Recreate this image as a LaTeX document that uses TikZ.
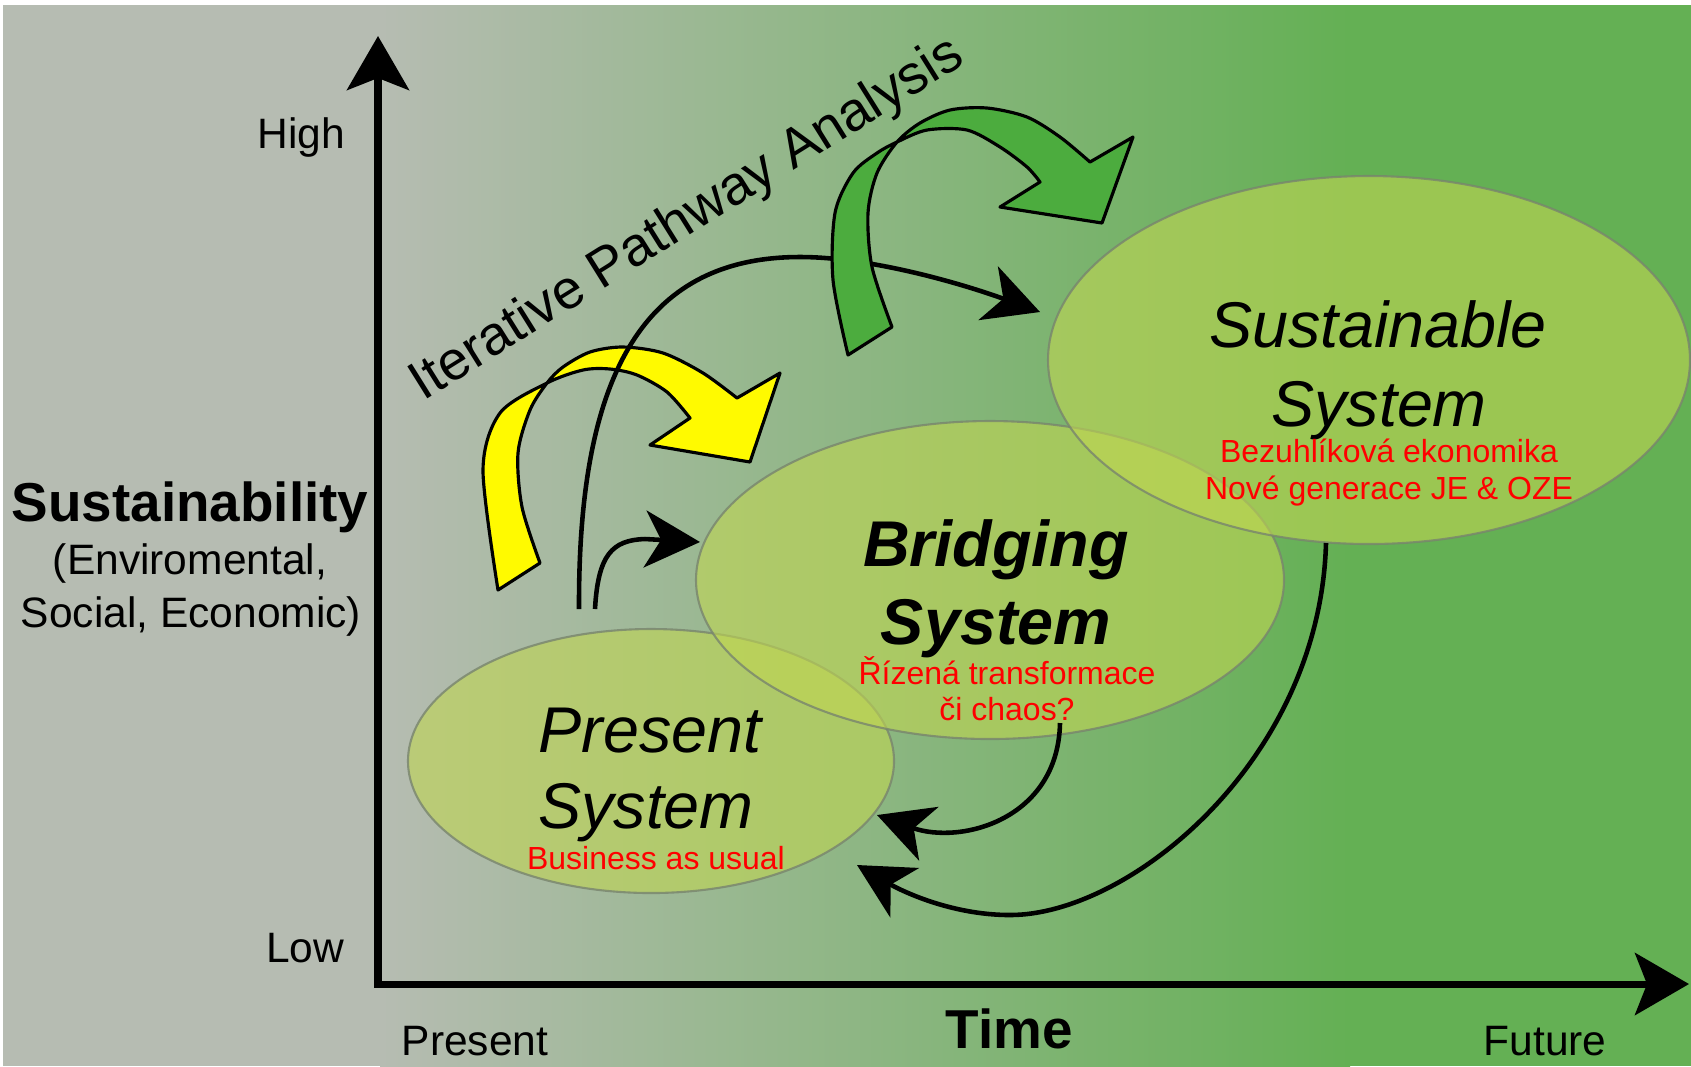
\documentclass[tikz,border=0pt]{standalone}
\usepackage{fontspec}
\setmainfont{Liberation Sans}
\usetikzlibrary{arrows.meta,shapes.geometric}

\definecolor{bggray}{RGB}{182,188,178}
\definecolor{bgmid}{RGB}{160,194,140}
\definecolor{bggreen}{RGB}{100,176,84}
\definecolor{blobfill}{RGB}{192,214,82}
\definecolor{blobline}{RGB}{120,132,110}
\definecolor{arrowyellow}{RGB}{255,250,0}
\definecolor{arrowgreen}{RGB}{76,172,62}

\newcommand{\axisfont}{\fontsize{12.1pt}{14pt}\selectfont}
\newcommand{\titlefont}{\bfseries\fontsize{15.6pt}{18pt}\selectfont}
\newcommand{\pathfont}{\fontsize{15.6pt}{18pt}\selectfont}
\newcommand{\blobfont}{\itshape\fontsize{18.4pt}{22pt}\selectfont}
\newcommand{\notefont}{\fontsize{9.1pt}{11pt}\selectfont}

\begin{document}
\begin{tikzpicture}[x=0.1mm,y=-0.1mm,
  blob/.style={ellipse, draw=blobline, line width=0.6pt, fill=blobfill,
    fill opacity=0.6, draw opacity=0.8, inner sep=0pt},
  txt/.style={inner sep=0pt, anchor=base},
  note/.style={txt, text=red, font=\notefont},
  axisline/.style={line width=2pt, line join=miter,
    {Stealth[length=5.4mm,width=6.2mm,inset=1.2mm]}-{Stealth[length=5.4mm,width=6.2mm,inset=1.2mm]}},
  link/.style={line width=1.3pt, -{Stealth[length=5.5mm,width=5.7mm,inset=1.6mm]}},
  ribbon/.style={draw=black, line width=0.9pt, line join=round}]
\useasboundingbox (0,0) rectangle (1691,1066);

% background
\fill[white] (0,0) rectangle (1691,1066);
\fill[bggray] (3,5) rectangle (381,1066);
\shade[left color=bggray, middle color=bgmid, right color=bggreen] (380,5) rectangle (1350,1066);
\fill[bggreen] (1349,5) rectangle (1691,1066);

% the three systems
\node[blob, minimum width=48.6mm, minimum height=26.4mm] (present) at (651,761) {};
\node[blob, minimum width=58.8mm, minimum height=31.8mm] (bridging) at (990,580) {};
\node[blob, minimum width=64.2mm, minimum height=36.8mm] (sustainable) at (1369,360) {};

% axes
\coordinate (origin) at (378,984);
\coordinate (ytop) at (378,36);
\coordinate (xend) at (1689,984);
\draw[axisline] (ytop) -- (origin) -- (xend);

\node[txt, anchor=base east, font=\axisfont] (high) at (346,148) {High};
\node[txt, anchor=base east, font=\axisfont] (low) at (345,962) {Low};
\node[txt, font=\titlefont] (sust) at (190,521) {Sustainability};
\node[txt, font=\axisfont] (dims1) at (190,574) {(Enviromental,};
\node[txt, font=\axisfont] (dims2) at (191,627) {Social, Economic)};
\node[txt, anchor=base west, font=\axisfont] (tnow) at (401,1055) {Present};
\node[txt, font=\titlefont] (time) at (1009,1048) {Time};
\node[txt, anchor=base west, font=\axisfont] (tfuture) at (1483,1055) {Future};

% labels in the ellipses
\node[txt, font=\blobfont] (presentA) at (650,752) {Present};
\node[txt, font=\blobfont] (presentB) at (646,828) {System};
\node[note] (presentN) at (656,869) {Business as usual};
\node[txt, font=\blobfont\bfseries] (bridgingA) at (996,566) {Bridging};
\node[txt, font=\blobfont\bfseries] (bridgingB) at (996,644) {System};
\node[note] (bridgingN1) at (1007,684) {Řízená transformace};
\node[note] (bridgingN2) at (1007,720) {či chaos?};
\node[txt, font=\blobfont] (sustainableA) at (1378,347) {Sustainable};
\node[txt, font=\blobfont] (sustainableB) at (1379,426) {System};
\node[note] (sustainableN1) at (1389,462) {Bezuhlíková ekonomika};
\node[note] (sustainableN2) at (1389,499) {Nové generace JE \& OZE};

\node[txt, rotate=32, font=\pathfont] (ipa) at (695,232) {Iterative Pathway Analysis};

% yellow ribbon arrow
\filldraw[ribbon, fill=arrowyellow] (498,590)
  -- plot[smooth] coordinates {(498,590) (483,470) (500,413) (547,383) (583,370) (610,369) (637,375) (667,392) (690,418)}
  -- (650,445) -- (750,462) -- (780,373) -- (737,398)
  -- plot[smooth] coordinates {(737,398) (703,373) (663,353) (623,347) (590,352) (563,367) (547,383) (530,410) (518,453) (522,507) (540,563)}
  -- cycle;

% black pathways
\coordinate (a0) at (579,609);
\coordinate (a1) at (800,257);
\coordinate (a2) at (1040,312);
\draw[link] (a0) .. controls (578,380) and (640,257) .. (a1) .. controls (870,257) and (960,283) .. (a2);

\coordinate (b0) at (595,609);
\coordinate (b1) at (645,539);
\coordinate (b2) at (700,542);
\draw[link] (b0) .. controls (598,555) and (612,540) .. (b1) -- (b2);

\coordinate (c0) at (1060,723);
\coordinate (c1) at (877,815);
\draw[link] (c0) .. controls (1058,820) and (960,845) .. (c1);

\coordinate (d0) at (1326,543);
\coordinate (d1) at (1010,915);
\coordinate (d2) at (857,865);
\draw[link] (d0) .. controls (1320,760) and (1130,915) .. (d1) .. controls (950,915) and (900,890) .. (d2);

% green ribbon arrow
\filldraw[ribbon, fill=arrowgreen] (848,355)
  -- plot[smooth] coordinates {(848,355) (833,280) (835,213) (853,173) (877,153) (897,142) (927,130) (967,130) (1000,147) (1027,167) (1040,182)}
  -- (1000,207) -- (1102,223) -- (1133,137) -- (1090,162)
  -- plot[smooth] coordinates {(1090,162) (1060,137) (1027,117) (987,108) (950,110) (920,123) (897,142) (877,173) (868,213) (872,267) (892,327)}
  -- cycle;

\end{tikzpicture}
\end{document}
